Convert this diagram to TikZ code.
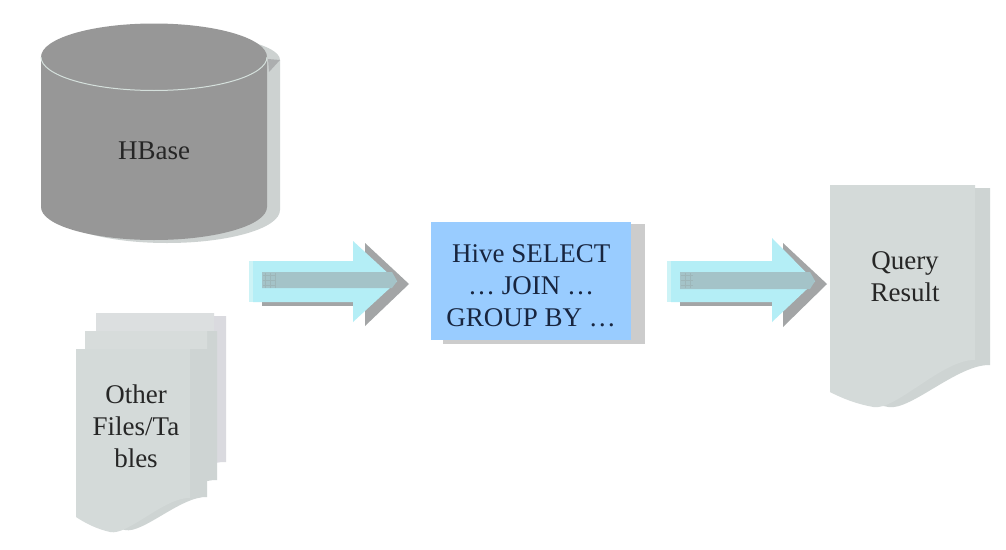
\documentclass[tikz,border=0pt]{standalone}
\usepackage{fontspec}
\setmainfont{Liberation Serif}
\definecolor{cyl}{HTML}{979797}
\definecolor{cylshadow}{HTML}{CDD2D1}
\definecolor{rimline}{HTML}{D5E0DC}
\definecolor{pagefill}{HTML}{D4DAD9}
\definecolor{pagemid}{HTML}{D7DCDB}
\definecolor{pageback}{HTML}{DCDFE0}
\definecolor{pagebackshadow}{HTML}{DADADF}
\definecolor{pageshadow}{HTML}{CED4D3}
\definecolor{boxblue}{HTML}{99CCFF}
\definecolor{boxshadow}{HTML}{CCCCCC}
\definecolor{arrowlight}{HTML}{B4EEF6}
\definecolor{arrowpale}{HTML}{CDF3F6}
\definecolor{arrowband}{HTML}{A4C3C8}
\definecolor{arrowdark}{HTML}{A3A5A6}
\definecolor{hivetextcol}{HTML}{18253F}
\tikzset{
  label text/.style={align=center,font=\fontsize{27}{32}\selectfont,text=black!85},
}
\newcommand{\docpath}[5]{% left, right, top, left-bottom, right-bottom
  (#1,#3) -- (#2,#3) -- (#2,#5)
  .. controls ({#2-0.22*(#2-#1)},{#5-1}) and ({#1+0.45*(#2-#1)},{#4+19}) .. ({#1+0.3*(#2-#1)},{#4+15})
  .. controls ({#1+0.18*(#2-#1)},{#4+12}) and ({#1+0.08*(#2-#1)},{#4+6}) .. (#1,#4) -- cycle}
\newcommand{\blockarrow}[8]{% x0 x1 xbase xtip ytop ybot headtop headbot
  \fill[arrowpale] (#1,#5) rectangle ({#1+13},#6);
  \fill[arrowlight] ({#1+4},#5) -- (#3,#5) -- (#3,#7) -- (#4,{(#5+#6)/2}) -- (#3,#8) -- (#3,#6) -- ({#1+4},#6) -- cycle;
}
\begin{document}
\begin{tikzpicture}[x=1pt,y=-1pt]
\useasboundingbox (0,0) rectangle (1006,549);
\fill[white] (0,0) rectangle (1006,549);
% HBase cylinder
\fill[cylshadow] (54,60) arc[start angle=180,end angle=360,x radius=113,y radius=27] -- (280,210)
  arc[start angle=0,end angle=180,x radius=113,y radius=33] -- cycle;
\fill[arrowdark!90] (268,59) -- (280,60) -- (269,72) -- cycle;
\fill[cyl] (41,57) arc[start angle=180,end angle=360,x radius=113,y radius=33.5] -- (267,207)
  arc[start angle=0,end angle=180,x radius=113,y radius=33] -- cycle;
\draw[rimline,line width=1pt] (41,57) arc[start angle=180,end angle=0,x radius=113,y radius=33.5];
\node[label text] (hbase) at (154,151) {HBase};
% Stacked documents
\fill[pagebackshadow] \docpath{108}{226}{316}{470}{462};
\fill[pageback] \docpath{96}{214}{313}{478}{462};
\fill[pageshadow] \docpath{108}{217}{331}{490}{480};
\fill[pagemid] \docpath{85}{207}{331}{495}{480};
\fill[pageshadow] \docpath{90}{207}{349}{515}{497};
\fill[pagefill] \docpath{76}{190}{349}{517}{498};
\node[label text] (other) at (136,426) {Other\\Files/Ta\\bles};
% Arrow into the query box
\fill[arrowdark] (262,299) rectangle (353,306);
\fill[arrowdark] (365,243) -- (409,284) -- (365,326) -- (365,298) -- (381,284) -- (365,268) -- cycle;
\blockarrow{249}{262}{353}{397}{261}{302}{241}{322}
\fill[arrowband] (262,272) -- (392,272) -- (397,281) -- (392,288) -- (262,288) -- cycle;
\draw[arrowband!80!gray,line width=.5pt,step=5pt] (263,273) grid (275,288);
% Query box
\fill[boxshadow] (443,224) rectangle (645,344);
\node[fill=boxblue,minimum width=200pt,minimum height=118pt,inner sep=0pt,anchor=north west] (hive) at (431,222) {};
\node[label text,text=hivetextcol] (hivetext) at ([yshift=-5pt]hive.center) {Hive SELECT\\… JOIN …\\GROUP BY …};
% Arrow to the result
\fill[arrowdark] (680,299) rectangle (772,306);
\fill[arrowdark] (783,243) -- (827,284) -- (783,327) -- (783,298) -- (799,284) -- (783,268) -- cycle;
\blockarrow{667}{680}{772}{815}{261}{302}{238}{322}
\fill[arrowband] (680,272) -- (810,272) -- (815,281) -- (810,289) -- (680,289) -- cycle;
\draw[arrowband!80!gray,line width=.5pt,step=5pt] (681,273) grid (693,288);
% Query result document
\fill[pageshadow] \docpath{845}{990}{188}{392}{365};
\fill[pagefill] \docpath{830}{975}{185}{392}{360};
\node[label text] (result) at (905,277) {Query\\Result};
\end{tikzpicture}
\end{document}
